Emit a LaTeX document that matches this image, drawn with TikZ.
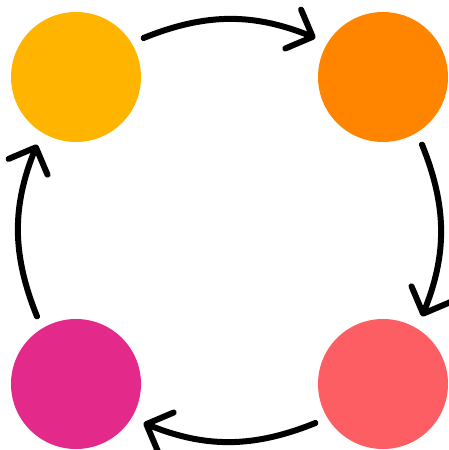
\documentclass[tikz,border=0pt]{standalone}
\usetikzlibrary{arrows.meta}
\definecolor{sunny}{HTML}{FFB400}
\definecolor{tangerine}{HTML}{FF8500}
\definecolor{coral}{HTML}{FC5E63}
\definecolor{berry}{HTML}{E3298A}
\begin{document}
\begin{tikzpicture}[x=1pt,y=1pt,
  dot/.style={circle,minimum size=130pt,inner sep=0pt,outer sep=13pt},
  cycle/.style={line width=6pt,line cap=round,
    -{Straight Barb[length=21pt,width=42pt,round]}}]
\useasboundingbox (0,0) rectangle (449,450);
\node[dot,fill=sunny] (tl) at (76,373) {};
\node[dot,fill=tangerine] (tr) at (383,373) {};
\node[dot,fill=coral] (br) at (383,66) {};
\node[dot,fill=berry] (bl) at (76,66) {};
\draw[cycle] (tl.30) to[bend left=22] (tr.150);
\draw[cycle] (tr.-60) to[bend left=22] (br.60);
\draw[cycle] (br.-150) to[bend left=22] (bl.-30);
\draw[cycle] (bl.120) to[bend left=22] (tl.-120);
\end{tikzpicture}
\end{document}
